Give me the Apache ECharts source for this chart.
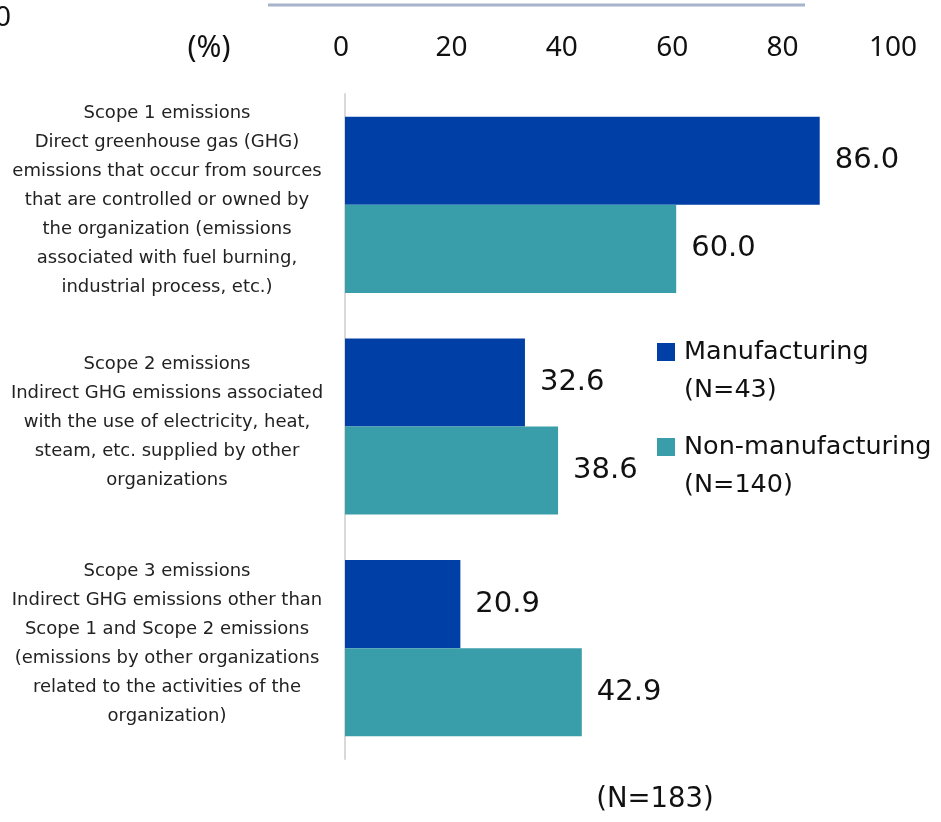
<!DOCTYPE html>
<html>
<head>
<meta charset="utf-8">
<script src="https://cdn.jsdelivr.net/npm/echarts@6/dist/echarts.min.js"></script>
<style>
html,body{margin:0;padding:0;background:#fff;}
#chart{width:941px;height:822px;}
</style>
</head>
<body>
<div id="chart"></div>
<script>
const categories = [
  "Scope 1 emissions\nDirect greenhouse gas (GHG)\nemissions that occur from sources\nthat are controlled or owned by\nthe organization (emissions\nassociated with fuel burning,\nindustrial process, etc.)",
  "Scope 2 emissions\nIndirect GHG emissions associated\nwith the use of electricity, heat,\nsteam, etc. supplied by other\norganizations",
  "Scope 3 emissions\nIndirect GHG emissions other than\nScope 1 and Scope 2 emissions\n(emissions by other organizations\nrelated to the activities of the\norganization)"
];
const seriesNames = ["Manufacturing", "Non-manufacturing"];
const legendLabels = [" \nManufacturing\n(N=43)", " \nNon-manufacturing\n(N=140)"];
const manufacturing = [86.0, 32.6, 20.9];
const nonManufacturing = [60.0, 38.6, 42.9];
const axisMin = 0, axisMax = 100, axisInterval = 20;

const chart = echarts.init(document.getElementById('chart'));
const labelFont = 'DejaVu Sans';
const option = {
  animation: false,
  backgroundColor: '#fff',
  grid: {left: 345, right: 44, top: 94, bottom: 63},
  xAxis: {
    type: 'value', position: 'top', min: axisMin, max: axisMax, interval: axisInterval,
    axisLine: {show: false}, axisTick: {show: false}, splitLine: {show: false},
    axisLabel: {fontFamily: 'Noto Sans', fontSize: 28, color: '#111', margin: 32, padding: [0, 8, 0, 0]}
  },
  yAxis: {
    type: 'category', data: categories, inverse: true,
    axisLine: {show: true, lineStyle: {color: '#D9D9D9', width: 2}},
    axisTick: {show: false},
    axisLabel: {
      fontFamily: labelFont, fontSize: 18, lineHeight: 29, color: '#222', align: 'center', margin: 178,
      formatter: function (v) { return v + '\n{s| }'; },
      rich: {s: {fontSize: 2, lineHeight: 9}}
    }
  },
  legend: {
    orient: 'vertical', left: 657, top: 295, padding: 0, itemGap: -19,
    itemWidth: 18, itemHeight: 18, icon: 'rect',
    textStyle: {fontFamily: labelFont, fontSize: 25.5, lineHeight: 38, color: '#111', padding: [0, 0, 0, 4]},
    formatter: function (name) { return legendLabels[seriesNames.indexOf(name)]; },
    data: seriesNames
  },
  series: [
    {
      name: seriesNames[0], type: 'bar', data: manufacturing, barGap: '0%', barCategoryGap: '20.5%',
      itemStyle: {color: '#003FA6'},
      label: {show: true, position: 'right', distance: 15, fontFamily: labelFont, fontSize: 29, color: '#111',
        formatter: function (p) { return p.value.toFixed(1); }}
    },
    {
      name: seriesNames[1], type: 'bar', data: nonManufacturing, barGap: '0%', barCategoryGap: '20.5%',
      itemStyle: {color: '#3A9EAA'},
      label: {show: true, position: 'right', distance: 15, fontFamily: labelFont, fontSize: 29, color: '#111',
        formatter: function (p) { return p.value.toFixed(1); }}
    }
  ],
  graphic: [
    {type: 'line', shape: {x1: 268, y1: 5, x2: 805, y2: 5}, style: {stroke: '#A5B3CB', lineWidth: 3}},
    {type: 'text', x: -5, y: 18, style: {text: '0', font: '28px "Noto Sans"', fill: '#111', verticalAlign: 'middle'}},
    {type: 'text', x: 209, y: 48, style: {text: '(%)', font: '30px "Noto Sans"', fill: '#111', align: 'center', verticalAlign: 'middle'}},
    {type: 'text', x: 655, y: 800, style: {text: '(N=183)', font: '27.5px "DejaVu Sans"', fill: '#111', align: 'center', verticalAlign: 'middle'}}
  ]
};
chart.setOption(option);
</script>
</body>
</html>
